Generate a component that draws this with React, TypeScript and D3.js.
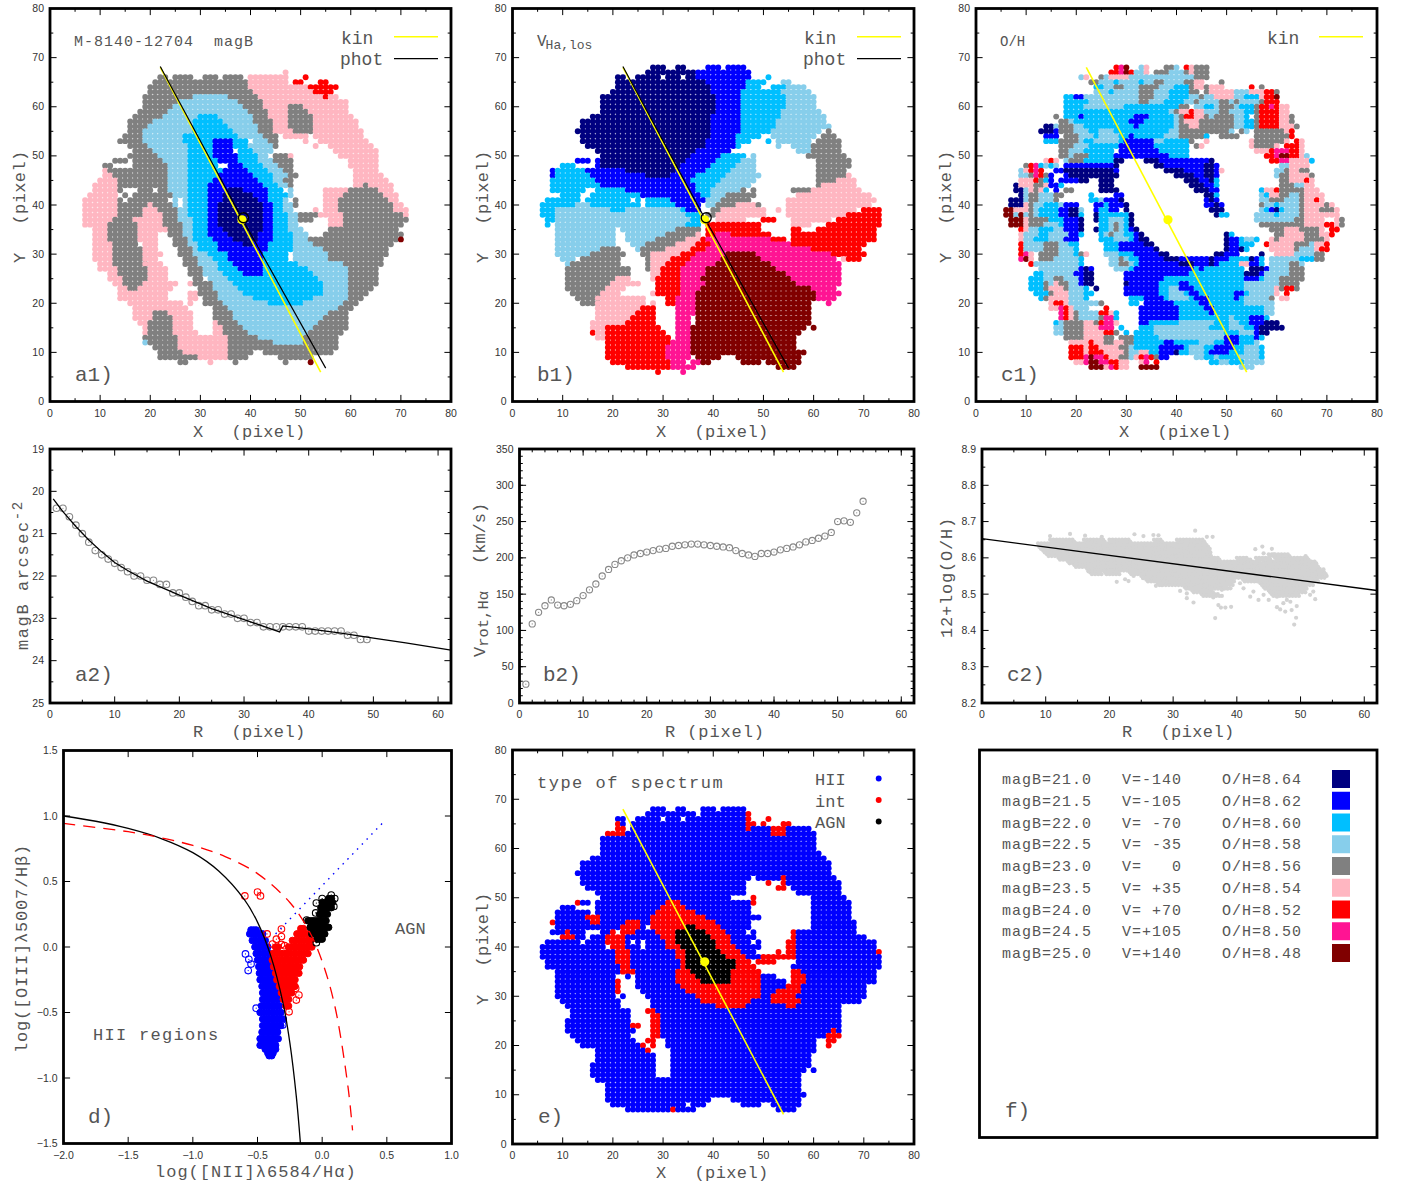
// Galaxy map figure: spaxel maps (a1, b1, c1, e), radial profiles (a2, b2, c2), BPT diagram (d), colour key (f)
import React from 'react';
import * as d3 from 'd3';

type Row = [number, string];

// colour codes used in the map rows
const colourCodes: Record<string, string> = {
  n: '#000080', b: '#0000ff', d: '#00bfff', l: '#87ceeb', g: '#808080',
  p: '#ffb6c1', r: '#ff0000', h: '#ff1493', m: '#800000', k: '#000000',
};

// map rows: Y, then runs of X with a colour code
const magBRows: Row[] = [
  [67, '47p'],
  [66, '22-23g 25-28g 31-33g 35-38g 40-47p 51r'],
  [65, '21-39g 40-47p 49-50r 54-55r'],
  [64, '20-39g 40-51p 52-57r'],
  [63, '20-40g 41-52p 53-56r'],
  [62, '19-28g 29-35l 36-41g 42-54p 55r 56-57p'],
  [61, '19-25g 26-37l 38-42g 43-59p'],
  [60, '19-24g 25-38l 39-42g 43-47p 48-50g 51-59p'],
  [59, '18-23g 24-39l 40-43g 44-47p 48-51g 52-59p'],
  [58, '17-22g 23-29l 30-33d 34-40l 41-43g 44-47p 48-52g 53-60p'],
  [57, '16-20g 21-28l 29-34d 35-40l 41-44g 45-47p 48-52g 53-61p'],
  [56, '16-19g 20-28l 29-35d 36-41l 42-44g 45-47p 48-52g 53-61p'],
  [55, '16-18g 19-28l 29-36d 37-41l 42-44g 45-48p 49-52g 53-62p'],
  [54, '15-18g 19-26l 27-37d 38-42l 43-45g 47-49p 50-51p 53-62p'],
  [53, '14-18g 19-26l 27-32d 33-36b 37-39d 41-43l 44-45g 51p 54-63p'],
  [52, '16-19g 20-27l 28-32d 33-36b 37-39d 40-44l 45g 53p 56-64p'],
  [51, '17-20g 21-27l 28-32d 33-36b 38-40d 41-44l 57-65p'],
  [50, '16-21g 22-27l 28-32d 33-37b 38-41d 42-43l 45-47g 48p 58-65p'],
  [49, '13-15g 17-22g 23-27l 28-33d 34-37b 38-41d 42-44l 45-48g 60-65p'],
  [48, '11-12g 17-23g 24-27l 28-33d 36-38b 39-42d 43-45l 46-48g 60-65p'],
  [47, '11p 12-23g 24-27l 28-34d 35-39b 40-43d 44-46l 47-48g 61-65p'],
  [46, '11-12p 13-23g 24-27l 28-33d 34-40b 41-44d 45-47l 48-49g 61-66p'],
  [45, '10-13p 14-23g 24-27l 28-33d 33-41b 42-44d 45-46l 47-48g 61-67p'],
  [44, '9-13p 14-23g 24-27l 28-31d 32-42b 43-45d 46-47l 48g 61-62p 63g 64-68p'],
  [43, '9-13p 14g 18-20g 22-23g 24-27l 28-31d 32-35b 36-38n 39-43b 44-46d 48l 55-59p 60-65g 66-68p'],
  [42, '8-13p 15g 17-24g 25-27l 28-31d 32-34b 35-40n 41-43b 44-47d 48l 55-58p 59-66g 67-69p'],
  [41, '7-13p 14g 16-23g 25l 27l 28-31d 32-34b 35-41n 42-43b 44-46d 47l 49g 55-57p 58-67g 68-69p'],
  [40, '7-13p 14-19g 20p 21-24g 25l 27l 28-31d 32-33b 34-42n 43-44b 45-46d 47-48l 49g 55-57p 58-68g 69-70p'],
  [39, '7-13p 14-18g 19-21p 22-25g 26-27l 28-31d 32-33b 34-42n 43-44b 45-46d 47-48l 53p 55-57p 58-68g 69-71p'],
  [38, '7-13p 14-18g 19-22p 23-25g 26-27l 28-31d 32-33b 34-42n 43-44b 45-47d 48-49l 50-53g 54-58p 59-70g 71p'],
  [37, '7-12p 13-16g 17-22p 23-25g 26-28l 29-31d 32-33b 34-42n 43-44b 45-47d 48-49l 50-52g 56-58p 59-71g'],
  [36, '7-11p 12-17g 18-22p 23-26g 27-28l 29-31d 32-33b 34-42n 43-44b 45-47d 48-49l 56-58p 59-70g'],
  [35, '9-11p 12-17g 18-23p 24-26g 27-28l 29-31d 32-34b 35-42n 43-44b 45-47d 48-50l 56-69g'],
  [34, '9-11p 12-17g 18-21p 24-26g 27-28l 29-31d 32-35b 36-41n 42-44b 45-48d 49-51l 55-70g'],
  [33, '9-11p 12-17g 18-21p 25-27g 28l 29-32d 33-36b 37-41n 42-44b 45-48d 49-51l 52-69g 70m'],
  [32, '9-12p 13-17g 19-21p 25-27g 28-29l 30-33d 34-38b 39-40n 41-43b 44-48d 49-52l 53-68g'],
  [31, '9-12p 13-18g 19-21p 26-28g 29l 30-33d 34-43b 44-48d 49-54l 55-67g'],
  [30, '9-12p 13-18g 19-22p 26-28g 29-31l 32-35d 36-42b 43-47d 49-55l 56-67g'],
  [29, '9-12p 13-18g 19-21p 27-29g 30-32l 33-35d 36-42b 43-47d 49-55l 56-66g'],
  [28, '10-12p 13-19g 19-22p 27-29g 30-33l 34-36d 37-42b 43-49d 50-58l 59-66g'],
  [27, '10-13p 14-19g 20-23p 28-30g 31-33l 34-37d 38-42b 43-51d 52-59l 60-65g'],
  [26, '12-14p 14-19g 20-23p 28-30g 31-34l 35-38d 39-42b 43-52d 53-59l 60-65g'],
  [25, '12-15p 15-19g 20-23p 29-30g 32-35l 36-53d 54-59l 60-65g'],
  [24, '13-14p 15-18g 19-25p 28p 29-32g 33-36l 37-54d 55-59l 60-65g'],
  [23, '14-15p 16-17g 18-24p 30-32g 33-37l 38-54d 55-59l 60-64g'],
  [22, '14-23p 28-29p 30-33g 34-38l 39-54d 55-59l 60-63g'],
  [21, '14-23p 28-29p 31-33g 34-40l 41-52d 53-59l 60-62g'],
  [20, '16-26p 28p 31-34g 35-43l 44-50d 51-58l 59-61g'],
  [19, '17-27p 33-35g 36-57l 58-60g'],
  [18, '17-20p 21-23g 24-28p 33-36g 37-55l 56-59g'],
  [17, '17-20p 21-24g 25-28p 33-36g 37-54l 55-59g'],
  [16, '18-19p 20-24g 25-28p 33p 34-37g 38-53l 54-59g'],
  [15, '19p 20-24g 25-28p 33-34p 35-38g 39-52l 53-59g'],
  [14, '19p 20-24g 25-29p 33-34p 35-39g 40-51l 52-58g'],
  [13, '19-25g 26-35p 36-41g 42-50l 51-57g'],
  [12, '19l 20-25g 26-35p 36-44g 45-50l 51-57g'],
  [11, '21-25g 26-35p 36-57g'],
  [10, '22-26g 27-35p 36-40g 43-54g 55-56g'],
  [9, '22-29g 30-35p 36-39g 46-52g'],
  [8, '26-27g 32p 37g 47g 52m'],
];

const velocityRows: Row[] = [
  [68, '28-30n 33-34n 39-41b 43-46b'],
  [67, '27-36n 37-47b'],
  [66, '21-22n 25-29n 31-33n 35-36n 37-47b 51d'],
  [65, '21-38n 39-46b 47-50d 54-55l'],
  [64, '21-39n 40-46b 47-49d 52-54d 55-58l'],
  [63, '20-39n 40-45b 46-53d 54-59l'],
  [62, '18-40n 41-45b 46-54d 55-60l'],
  [61, '18-40n 41-45b 46-54d 55-60l'],
  [60, '18-40n 41-45b 46-54d 55-60l'],
  [59, '18-40n 41-45b 46-53d 54-61l'],
  [58, '16-39n 40-45b 46-53d 54-62l'],
  [57, '14-39n 40-45b 46-52d 53-62l'],
  [56, '14-39n 40-45b 46-52d 53-63l'],
  [55, '13-39n 40-45b 46-51d 52-61l 63g'],
  [54, '14-39n 40-44b 45-49d 52-60l 62-64g'],
  [53, '14-38n 39-44b 45-47d 51d 53-59l 61-65g'],
  [52, '15-38n 39-44b 45d 53l 56-59l 60-65g'],
  [51, '17-36n 37-43b 57-59l 60-65g'],
  [50, '18-35n 36-41b 42-46d 48l 59g 60-66g'],
  [49, '13-15b 17b 18-34n 35-40b 41-45d 46-48l 61-67g'],
  [48, '10-12d 17b 18-33n 34-39b 40-44d 45-48l 61-67g'],
  [47, '8b 9-14d 15-22b 23-32n 33-38b 39-43d 44-48l 61-66g'],
  [46, '8b 9-15d 16-26b 27-31n 32-36b 37-42d 43-49l 61-66g 67p'],
  [45, '8-16d 17-35b 36-41d 42-48l 61-64g 65-68p'],
  [44, '8-17d 18-36b 37-40d 41-47l 61g 62-68p'],
  [43, '8-14d 17-22d 23-36b 37-39d 40-45l 46g 48g 56-59g 60-69p'],
  [42, '10-13d 16-25d 26-37b 38-39d 40-42l 43-47g 48g 57-71p'],
  [41, '7-13d 15-23d 25d 27-31d 32-38b 39-41l 42-47g 55-72p'],
  [40, '6-12d 13-15l 16-24d 25d 27-32d 33-37b 39-40l 41-44g 45-48p 49g 55-71p'],
  [39, '6-8d 9-19l 20-22d 23-33l 34d 35-37b 40-41g 42-50p 53p 55-68p 70-73r'],
  [38, '6-8d 9-34l 35-37d 39-40g 41-50p 55-66p 67-73r'],
  [37, '7-8d 9-35l 36-37d 41-46p 50-52r 56-63p 65-73r'],
  [36, '7d 9-34l 35-37d 39r 40-49r 56-59p 63-73r'],
  [35, '9-20l 22-32l 33-37g 39-49r 56-57r 61-72r'],
  [34, '9-20l 23-30l 31-36g 37p 39-40r 41-43h 44-51r 56-72r'],
  [33, '9-20l 23-28l 29-34g 35-37p 38r 39-51h 52-54r 56-72r'],
  [32, '9-20l 24-26l 27-32g 33-36p 37-39r 40-55h 56-70r'],
  [31, '9-17l 18-21g 25l 26-30g 31-35p 36-38r 39-59h 60-69r'],
  [30, '9-15l 16-22g 26-27g 28-33p 34-36r 37-42h 43-48m 49-63h 64-70r'],
  [29, '10-12l 14-21g 27g 28-31p 32-35r 36-41h 42-49m 50-64h 66p 67-69r'],
  [28, '11l 12-21g 27g 28-30p 31-34r 35-40h 41-51m 52-65h'],
  [27, '11-23g 27g 28-29p 30-33r 34-38h 39-52m 53-65h'],
  [26, '11-23g 28-29p 30-33r 34-38h 39-54m 55-65h'],
  [25, '11-20g 21-23p 28p 29-33r 34-37h 38-55m 56-65h'],
  [24, '11-19g 20-25p 29-33r 34-38h 39-56m 57-65h'],
  [23, '11-18g 19-22p 29-33r 34-37h 38-59m 60-64h'],
  [22, '12-18g 18-21p 28p 29-33r 34-36h 37-60m 61-65h'],
  [21, '13-17g 17-26p 31-32r 33-36h 37-60m 61-64h'],
  [20, '14-17g 17-26p 28p 31-32r 33-36h 37-59m 63h'],
  [19, '17-25p 26-28r 33-36h 37-59m'],
  [18, '17-24p 25-28r 33-36h 37-59m'],
  [17, '17-23p 24-28r 33-35h 37-59m'],
  [16, '16-22p 23-28r 33-35h 37-59m'],
  [15, '16-18p 19-29r 33-35h 36-58m 60m'],
  [14, '16r 17-18p 19-30r 33-35h 36-57m'],
  [13, '17-18p 19-31r 33-35h 36-56m'],
  [12, '19-31r 32-35h 36-56m'],
  [11, '19-30r 31-35h 36-56m'],
  [10, '19-30r 31-35h 36-58m'],
  [9, '19-30r 31-35h 37-41m 45-57m'],
  [8, '20-31r 32-34h 36-37h 38-39m 46-49m 51-57m'],
  [7, '23-31r 32-36h 53-56m'],
  [6, '29r 34h'],
];

const abundanceRows: Row[] = [
  [68, '28r 29h 30m 33l 34p 38-39g 40l 42r 43p 44-46g'],
  [67, '27-28r 29h 30m 31r 32-33l 34p 36-38g 39-41l 42g 43p 44-46g'],
  [66, '21l 22p 25g 26l 27-30p 31-36l 37-43l 44-46g'],
  [65, '23-24g 25-27l 28d 29-32l 33d 34-35l 36-37g 38-41l 42-43g 44-45p 49g'],
  [64, '24-25d 26-27l 28-29g 30-32l 33-36g 37-39l 40-42d 43g 44-45p 46g 47-49p 55r 57g'],
  [63, '24-26l 27d 28-32l 33-35g 36-38l 39-42d 43-44g 46g 47-51p 52-54l 55-57p 58-59r 60g'],
  [62, '18-19d 20-21b 22-32l 33-35g 36-38l 39-42d 43-44l 45g 46-47l 48-51p 52-53l 54-56d 57p 58-59r 60m'],
  [61, '18-22d 23-32l 33-34g 35-37l 38-41d 42-43l 44g 45-48l 49-50g 51l 52g 53-56l 57g 58-60r'],
  [60, '18-21d 22-29l 30-40d 41g 42g 44-45l 46-47d 48l 49-51g 52l 53-55d 56g 57-58r 59h 60r 61-62p'],
  [59, '18-38d 39l 40g 41-42p 43r 44-45p 46-48l 49-50g 51-53l 54-55d 56g 57-60r 61-62p'],
  [58, '16g 18-20d 21b 22-30d 31d 32-34b 35-39d 40l 41g 42-43r 44-45p 46g 47l 48-51g 52-53l 54d 56g 57-60r 61-62p 63g'],
  [57, '17-18g 19l 20-30d 31-33b 34-39d 40l 41g 42-44p 45-51g 52-53l 54-55d 56g 57-60r 61-62p 63g'],
  [56, '14-15n 16l 17-19g 20-21l 22-31d 32b 33-39d 40l 41-42g 43-44p 45-51g 52-53l 54-55d 56g 57-60r 61-63p 64g'],
  [55, '13-15n 16b 17-19g 20-22l 23-24d 25-27l 28-38d 39-40l 41-50g 51l 53g 54l 56-61g 62p 63r'],
  [54, '14-16b 18-20g 21-23l 24d 25-28l 29-30d 31b 32-37d 38-40l 41-45g 46d 49-52g 56-61g 62g 63r'],
  [53, '14-16d 17g 18-20g 21l 22-23d 24-28l 29d 30-35b 36-37l 38-42d 43g 46p 55p 56-61g 62p 64r 65p'],
  [52, '17g 18-19g 20-22l 23-28d 29-35b 36-42d 44g 45p 55p 56-59g 60p 62-64r 65p'],
  [51, '17-19g 19-21l 22-27d 29-36b 37-42d 56-58p 59r 60-62h 63-64r 65p'],
  [50, '17-18g 19l 20-22g 23-27d 28-38b 39-42d 58-59r 60h 61-62m 63-64r 65p 66l'],
  [49, '14p 15r 16p 18l 19-21g 22-27d 28-29n 34-36n 37-39b 40-46b 47n 59-60r 61-62h 63-66p 67d'],
  [48, '10g 11r 12h 13d 14l 15d 16l 18-27b 28n 36-37n 38-45b 46-47n 48b 61-62l 63-66p'],
  [47, '9l 10p 11r 12h 13r 16-17b 18-27n 28b 38-41n 42-45b 46-47n 48b 49p 60-61l 62g 63-64p 65-66g'],
  [46, '9-10l 11g 12h 13r 14g 15b 18b 19-26n 27-28n 40-43n 44-45b 46-47n 48b 60l 61-62g 63-66p 67g'],
  [45, '9-11p 12r 13g 14d 15b 17-20b 21-22n 25-27n 42-44n 45-46b 47n 48d 61-62g 63-65p 66r 67p'],
  [44, '8n 9-11p 12-13g 14p 15-16b 17d 25-27n 43-45n 46-47b 48d 61-63g 64-65l 66-67p'],
  [43, '8-9n 10l 11p 12g 13p 14d 16b 18-19g 25-28n 44-46n 47-48b 57d 58-59p 60r 61-65g 66-68p'],
  [42, '9n 10l 11-12g 13-15l 16-17g 23d 28-29b 46-47n 48d 57l 58d 59-60p 61-62g 63-64l 65g 66-69p'],
  [41, '7-9n 10l 11-12g 13-15l 16g 23-24d 25l 26-28b 29n 46b 47n 48b 57-58l 59-61g 62-64l 65g 66-67p 68r 69p'],
  [40, '7-9n 10p 11g 12-13l 14-16d 17l 18-20b 24-25b 26d 27-29b 30n 46-47b 48n 49b 57g 58-59l 60d 61-64l 65g 66-69p 70g 71p'],
  [39, '6-7m 8-10p 11g 12l 13-16d 17-18b 19-20n 21l 24b 25-26d 27-28b 30n 47-49n 57l 58d 59b 60n 61d 62-64l 65g 66-68p 69-71g 72p'],
  [38, '6-7m 8l 9m 10l 11g 12l 13-16d 17-18b 19-20n 21d 24n 25-30d 31n 48n 49-50d 56-59l 60d 61-64l 65g 66-72p'],
  [37, '7-9m 10p 11-14g 15-17d 18-20b 21n 24n 25-26d 27-29l 30d 31n 56-63l 64-65g 66-69p 72p 73g'],
  [36, '7-9m 10p 11-13g 14-16l 17d 18-20b 21n 25-26d 27l 28g 29l 30d 31n 57-65g 66-69p 70-71r 72p 73g'],
  [35, '9r 10p 11-12l 13-15d 16-17l 18-20b 21n 24n 25-26d 27l 28g 29l 30d 31b 32n 59-61g 62-64p 65-68g 69p 71-72r'],
  [34, '9p 10-12l 13-14d 15-18l 19-20b 21d 25d 26l 27g 28-29l 30-31d 32b 33n 50n 51d 60-61g 62-65p 66-68g 69-70p 71r'],
  [33, '9p 10-11l 12-14d 15-17l 18-20b 25-27d 28-30l 31d 32b 33-34n 50n 51-52b 53d 54-55l 56d 59p 60g 61-65p 66-69g 70p'],
  [32, '9r 10-13l 14-16g 17-18l 19-20d 26-28d 29-33b 34-35n 50n 51-52b 53-55d 58r 59-63p 64-66g 67l 68-69p 70r'],
  [31, '9r 10-13l 14-16g 17-19l 20d 26-28d 29-35b 36n 50n 51-52b 53n 54d 59-63p 64g 65-67l 68p 69-70r'],
  [30, '9r 10h 11p 13-16g 17-19l 20d 21g 22p 26-28l 29-31d 32-36b 37-38n 48-49n 50-52b 57n 60-63p 64-67l 68-69g'],
  [29, '9h 10m 11p 13-15g 16-20l 21d 27-28l 29g 30l 31-32d 33-37b 38-40n 41-46b 47n 48-50b 51-54d 55n 56b 57d 59-64l 65-67d 68-69g'],
  [28, '11r 12-20l 21d 27-28l 29-30g 31l 32d 33-40b 41-43n 44-46b 47n 48b 49-52d 53-54p 55-56b 57d 59-62l 63-64g 65l'],
  [27, '13-20l 21b 22n 23b 28-30l 31d 32-43b 44d 45b 46-53d 55-57n 58b 59-62l 63-65g'],
  [26, '12-13d 14-19l 20-21b 22-23n 30-42b 43-53d 54-56n 57b 58-62l 63-65g'],
  [25, '11-13d 14-15l 16-17g 18-20l 21b 22-23n 30-37b 38-44d 45-47d 48-53d 54-56b 57d 58-60l 61-65g'],
  [24, '11-13d 14g 15l 16p 17-18g 19-20l 21b 22-23n 30n 31-36b 37-40d 41-42b 43-53d 54-60l 61-64g'],
  [23, '11-13d 14g 15-17p 18g 19-21l 22d 24n 30-36b 37-38d 39-40l 41-43b 44-53d 54-59l 60p 61g 62-63r 64g'],
  [22, '12-14d 15g 16-18p 19-21l 22-23d 30-36b 37-38d 39-41l 42d 43-44b 45-51d 52-53b 54d 55-59l 60p 62r'],
  [21, '13d 14g 15-18p 19-21l 22d 31-33d 34-37b 38d 39-42l 43d 44-46b 47-51d 52b 53d 54-58l 59g 61-62p'],
  [20, '15p 16-17r 18p 19-24l 25g 31-32d 34-39b 40-43d 44d 45-46b 47-53d 54-59l'],
  [19, '15-16p 17h 18r 19p 20-22l 26r 33-38b 39-40b 41-45d 46-47b 48-57d 58-59l'],
  [18, '17h 18r 19p 20g 21-24l 25-26r 27p 28d 33-40b 41-46d 47b 48-57d 58-59l'],
  [17, '17h 18r 19p 20g 21-24l 25g 26-27h 28d 33-40b 41-47d 48-50d 51l 52-54d 55-57b 58d'],
  [16, '16d 17l 18-21g 22-23p 24g 25r 26-27h 28p 33-34b 35-40d 41-47l 48-50d 51-52l 53-54d 55-57b 58-60n'],
  [15, '16-17l 18-21g 22-24p 25-27h 29d 33-35d 36-46l 47-50d 51-53l 54-55d 56b 57-61n'],
  [14, '16-17l 18-21g 22-25p 26-27r 28g 30d 32-35d 36-49l 50-52d 53-55l 56b 57-58n'],
  [13, '18-21g 22-25p 26-27g 29-31g 32-36d 37-49l 50-52b 53-55d 56b 57d'],
  [12, '19-22p 23r 24-25p 26-27g 28-29p 30-31g 32-37d 38-39b 40-44d 45-47l 48-49d 50-52b 53-55d 56l'],
  [11, '19-21r 22p 23-24r 25-26p 27-28p 29-30g 31l 32-36d 37-41b 42d 43-45l 46-47d 48-51b 52-53d 54-56l 57d'],
  [10, '19-21r 22p 23-25r 26-28p 29p 30g 31-32l 33-34p 35-36d 37-39b 40n 41-42d 43-45l 46d 47-50b 51-53d 54-56l 57d'],
  [9, '19-20r 21r 22h 23m 24-25h 26r 27-28p 29-30g 31l 32p 33r 34h 35r 36g 37-38b 44-45l 46-47d 48l 49-52d 53-56l 57d'],
  [8, '20-21p 22h 23-24m 25-26h 27-28r 29-30p 33p 34h 36r 47-48d 49-50l 51-53d 54-57l'],
  [7, '23-25m 26p 27h 28r 29-30p 33-36m 53-55l'],
];

const spectrumRows: Row[] = [
  [68, '28-30b 33-34b 38-40b 42-46b'],
  [67, '27-36b 38-46b 47r'],
  [66, '21-22b 25-29b 31-33b 35-46b 47r 51r'],
  [65, '21r 22b 24-46b 47-48r 50r 54-55r'],
  [64, '21-22r 24-46b 47r 48-51b 52-54r 55-59b'],
  [63, '19-22r 23-51b 52-54r 55-60b'],
  [62, '18-60b'],
  [61, '18-60b'],
  [60, '18-60b'],
  [59, '18-61b'],
  [58, '16-62b'],
  [57, '14-63b'],
  [56, '14-63b'],
  [55, '13-63b'],
  [54, '14-47b 49-53b 54r 55-64b'],
  [53, '14-46b 51r 54r 55-65b'],
  [52, '15-46b 53-54r 56-65b'],
  [51, '17-46b 57-65b'],
  [50, '18-43b 48r 60-66b'],
  [49, '13r 14-15b 17-30b 31-33r 34-47b 48r 60-67b'],
  [48, '10-12b 17-29b 30-34r 35-47b 60-67b'],
  [47, '9-15b 17-28b 29-36r 37-47b 60-67b'],
  [46, '9-14b 15-17r 18-27b 28-38r 39-48b 49b 60-67b'],
  [45, '8r 9-15b 16-17r 18-22b 23-25r 26-27b 28-40r 41-47b 60-68b'],
  [44, '9-21b 22-25r 26b 28-34r 35-36k 37-41r 42-47b 60-68b'],
  [43, '8-10b 11r 12-14b 18-19b 20r 22-24r 25-28b 29-32r 33-38k 39-42r 43-46b 48b 56r 57-68b'],
  [42, '10-12r 13-14b 16-18b 19-22r 23-29b 30-32r 33-39k 40-43r 44-48b 56r 57-70b'],
  [41, '7-13b 15-18b 19-22r 23b 25b 27-30b 31-32r 33-40k 41-43r 44-47b 49b 55-56r 57-72b'],
  [40, '6-18b 20-22r 23-25b 27-30b 31-33r 34-40k 41-44r 45-49b 55-56r 57-72b'],
  [39, '6-20b 21-23r 24-32b 33-34r 35-41k 42-45r 46-48b 53r 55-56r 57-72b 73r'],
  [38, '6-20b 21-23r 24-32b 33-34r 35-42k 43-46r 47-49b 50-56r 57-73b'],
  [37, '7-20b 21-23r 24-33b 34r 35-44k 45-47r 49-52r 57-73b'],
  [36, '7-21b 22-23r 24-33b 34r 35-44k 45-48r 56-73b'],
  [35, '9-21b 22-24r 25-32b 33-35r 36-43k 44-49r 56-57r 58-72b'],
  [34, '9-20b 23b 25-32b 33-36r 37-43k 44-49r 50-52b 56-58r 59-72b'],
  [33, '9-20b 21r 25-32b 33-37r 38-43k 44-49r 50-54b 56-58r 59-72b'],
  [32, '9-20b 21r 25-33b 34-49r 50-54b 55-57r 58-70b'],
  [31, '9-20b 21r 26-34b 35-49r 50-52b 53-57r 58-70b'],
  [30, '9-20b 22b 27-36b 37-49r 50-51b 52-56r 57-70b'],
  [29, '10-21b 28-37b 38-47r 48-51b 52-56r 57r 58-69b'],
  [28, '11-21b 28-40b 41-46r 47-54b 55-56r 57-65b'],
  [27, '12-23b 27-28r 29-65b'],
  [26, '12-23b 28-29r 30-65b'],
  [25, '11-23b 28-29r 30-65b'],
  [24, '11-23b 24-25r 28-29r 30-65b'],
  [23, '11-23b 24b 28-29r 30-63b 64r 65b'],
  [22, '12-23b 28-29r 30-62b 63-64r 65r'],
  [21, '13-24b 27-28r 31-60b 63-64r'],
  [20, '14-25b 26r 28r 31-60b 63r'],
  [19, '17-26b 27r 32-60b'],
  [18, '17-28b 32-59b'],
  [17, '17-28b 32-59b'],
  [16, '16-28b 32-59b'],
  [15, '16-28b 32-58b 60b'],
  [14, '16-28b 32-57b'],
  [13, '17-57b'],
  [12, '19-57b'],
  [11, '19-57b'],
  [10, '19-58b'],
  [9, '19-39b 44-57b'],
  [8, '20-34b 36-38b 46-49b 52-57b'],
  [7, '23-31b 32r 33-36b 53-56b'],
];

// kinematic and photometric position angle lines, X and Y
const kinLine: [number, number][] = [[22, 68], [54, 6]];
const photLine: [number, number][] = [[22, 68.2], [38.3, 37.3], [55, 6.8]];
const centre: [number, number] = [38.3, 37];
const photCentre: [number, number] = [38.6, 37.4];

// a2 surface brightness profile, R = 1..49
const magBProfile = [20.4, 20.4, 20.6, 20.8, 21.0, 21.2, 21.4, 21.5, 21.6, 21.7, 21.8, 21.9, 22.0, 22.0, 22.1, 22.1, 22.2, 22.2, 22.4, 22.4, 22.5, 22.6, 22.7, 22.7, 22.8, 22.8, 22.9, 22.9, 23.0, 23.0, 23.1, 23.1, 23.2, 23.2, 23.2, 23.2, 23.2, 23.2, 23.2, 23.3, 23.3, 23.3, 23.3, 23.3, 23.3, 23.4, 23.4, 23.5, 23.5];
const magBFit: [number, number][] = [[0.5, 20.18], [2, 20.48], [4, 20.83], [6, 21.15], [8, 21.43], [10, 21.68], [12, 21.87], [15, 22.12], [20, 22.45], [25, 22.77], [30, 23.03], [35.5, 23.32], [36, 23.18], [40, 23.25], [45, 23.35], [50, 23.47], [55, 23.58], [62, 23.75]];

// b2 rotation curve, R = 1..54
const rotationCurve = [26, 109, 125, 134, 142, 135, 134, 136, 141, 148, 156, 164, 175, 184, 191, 196, 200, 204, 206, 208, 210, 212, 213, 216, 217, 218, 219, 219, 218, 217, 216, 215, 214, 210, 206, 204, 202, 206, 206, 208, 211, 213, 215, 218, 222, 224, 227, 230, 235, 250, 251, 249, 262, 278];

// c2 cloud of spaxels: occupied R intervals at each O/H level, then the loose points
const abundanceBands: [number, [number, number][]][] = [
  [8.65, [[10.7, 14.3], [16, 19], [20, 23], [27, 28], [30.6, 34.8]]],
  [8.64, [[8.8, 19.6], [20, 29.5], [30, 35]]],
  [8.63, [[9, 35.3]]],
  [8.62, [[9.6, 35.6]]],
  [8.61, [[10.2, 35.6], [45, 48]]],
  [8.60, [[12, 37.2], [40, 41.6], [43, 45], [46, 51.2]]],
  [8.59, [[13.5, 43.7], [44.2, 52]]],
  [8.58, [[14.5, 52.5]]],
  [8.57, [[16.5, 53.2]]],
  [8.56, [[17, 18.5], [19.3, 21.5], [23.2, 53.8]]],
  [8.55, [[25, 53.6]]],
  [8.54, [[25.8, 39.5], [41, 52.4]]],
  [8.53, [[27.6, 39], [43.7, 51.8]]],
  [8.52, [[31.8, 38.2], [44.2, 50.8]]],
  [8.51, [[33, 36], [45, 50.5]]],
  [8.50, [[34.5, 37], [45.5, 49.5]]],
];
const abundanceLoose: [number, number][] = [[10.68, 8.66], [13.82, 8.666], [16.18, 8.661], [18.8, 8.658], [23.93, 8.665], [25.34, 8.66], [26.9, 8.663], [27.7, 8.662], [33.46, 8.675], [35.3, 8.658], [36.2, 8.658], [42.9, 8.624], [44, 8.631], [45.5, 8.625], [45.8, 8.61], [47.85, 8.606], [50.8, 8.605], [21.15, 8.534], [22.46, 8.541], [23, 8.536], [23.8, 8.55], [27.3, 8.523], [28.2, 8.525], [31.1, 8.509], [32.15, 8.502], [32.15, 8.489], [33.2, 8.477], [35.55, 8.507], [37.65, 8.495], [36.3, 8.491], [37.1, 8.47], [37.5, 8.463], [38.2, 8.463], [39.1, 8.465], [36.6, 8.434], [42.1, 8.493], [43.4, 8.484], [45, 8.484], [46.3, 8.464], [46.8, 8.458], [47.6, 8.452], [48.6, 8.456], [49.4, 8.467], [49.3, 8.435], [49, 8.416], [47.3, 8.475], [48.4, 8.479], [52.3, 8.486], [52, 8.507], [51.5, 8.498], [53.6, 8.568], [54.1, 8.55],
  [41.05, 8.599], [42.1, 8.595], [44.2, 8.6125], [46.5, 8.604], [47.3, 8.595], [48.9, 8.595], [50.2, 8.59], [51.5, 8.59], [52, 8.567], [53.1, 8.563], [12.8, 8.599], [14.1, 8.59], [15.4, 8.586], [16.7, 8.563], [18.3, 8.563], [19.8, 8.563], [21.15, 8.563], [25.3, 8.544], [26.4, 8.549], [28.5, 8.535], [30.05, 8.535], [33.7, 8.521], [34.8, 8.512], [36.1, 8.526], [37.65, 8.512], [39, 8.516], [40.5, 8.53], [41.05, 8.516], [42.6, 8.507], [44.2, 8.498], [45.2, 8.507], [46.3, 8.493], [47.85, 8.484], [50.2, 8.507]];
const abundanceFit: [number, number][] = [[0, 8.653], [62, 8.51]];

// d BPT diagram: occupied x intervals at each y level, then the loose points
const hiiBands: [number, [number, number][]][] = [
  [0.13, [[-0.55, -0.52]]], [0.1, [[-0.56, -0.46]]], [0.05, [[-0.54, -0.45]]], [0, [[-0.52, -0.43]]], [-0.05, [[-0.51, -0.42]]],
  [-0.1, [[-0.5, -0.41]]], [-0.15, [[-0.49, -0.4]]], [-0.2, [[-0.485, -0.38]]], [-0.25, [[-0.48, -0.37]]], [-0.3, [[-0.465, -0.36]]],
  [-0.35, [[-0.46, -0.345]]], [-0.4, [[-0.46, -0.335]]], [-0.45, [[-0.47, -0.325]]], [-0.5, [[-0.48, -0.32]]], [-0.55, [[-0.46, -0.31]]],
  [-0.6, [[-0.46, -0.325]]], [-0.65, [[-0.465, -0.34]]], [-0.7, [[-0.48, -0.35]]], [-0.75, [[-0.48, -0.365]]], [-0.78, [[-0.44, -0.37]]], [-0.81, [[-0.42, -0.38]]], [-0.83, [[-0.41, -0.39]]],
];
const intBands: [number, [number, number][]][] = [
  [0.14, [[-0.165, -0.15]]], [0.1, [[-0.195, -0.115]]], [0.05, [[-0.23, -0.08]]], [0, [[-0.36, -0.35], [-0.26, -0.08]]], [-0.05, [[-0.38, -0.28], [-0.27, -0.12]]],
  [-0.1, [[-0.385, -0.14]]], [-0.15, [[-0.375, -0.165]]], [-0.2, [[-0.36, -0.185]]], [-0.25, [[-0.35, -0.2]]], [-0.3, [[-0.33, -0.22]]],
  [-0.35, [[-0.315, -0.235]]], [-0.4, [[-0.3, -0.25]]], [-0.45, [[-0.28, -0.27]]],
];
const agnBands: [number, [number, number][]][] = [
  [0.37, [[0.05, 0.08]]], [0.34, [[0.0, 0.08]]], [0.3, [[-0.01, 0.07]]], [0.25, [[-0.02, 0.05]]], [0.2, [[-0.11, 0.04]]],
  [0.15, [[-0.09, 0.04]]], [0.1, [[-0.08, 0.02]]], [0.06, [[-0.04, 0.01]]],
];
const hiiLoose: [number, number][] = [[-0.593, -0.053], [-0.567, -0.094], [-0.572, -0.18], [-0.55, -0.13], [-0.51, -0.467], [-0.305, -0.596]];
const intLoose: [number, number][] = [[-0.598, 0.39], [-0.5, 0.42], [-0.477, 0.39], [-0.426, 0.1], [-0.315, 0.137], [-0.354, 0.06], [-0.315, 0.08], [-0.384, 0.023], [-0.315, 0.02], [-0.29, 0.01], [-0.205, -0.315], [-0.18, -0.367], [-0.2, -0.405], [-0.22, -0.3], [-0.256, -0.495]];
const agnLoose: [number, number][] = [[-0.045, 0.335], [-0.05, 0.26], [-0.045, 0.033], [0.07, 0.397], [0.0, 0.37], [0.097, 0.37], [-0.12, 0.206], [-0.09, 0.15], [0.03, 0.33], [0.02, 0.28], [0.09, 0.31]];
const kauffmannCurve: [number, number][] = [[-2, 1.0], [-1.75, 0.96], [-1.5, 0.905], [-1.25, 0.83], [-1, 0.72], [-0.8, 0.58], [-0.6, 0.36], [-0.5, 0.19], [-0.4, -0.06], [-0.3, -0.44], [-0.25, -0.73], [-0.2, -1.14], [-0.168, -1.5]];
const kewleyCurve: [number, number][] = [[-2, 0.943], [-1.5, 0.88], [-1.25, 0.835], [-1, 0.775], [-0.75, 0.69], [-0.5, 0.56], [-0.25, 0.34], [-0.1, 0.12], [0, -0.11], [0.1, -0.46], [0.2, -1.07], [0.235, -1.4]];
const agnDivider: [number, number][] = [[-0.36, 0.1], [0.49, 0.97]];

// f colour key
const keyColours = ['n', 'b', 'd', 'l', 'g', 'p', 'r', 'h', 'm'];
const keyMagB = ['21.0', '21.5', '22.0', '22.5', '23.0', '23.5', '24.0', '24.5', '25.0'];
const keyVelocity = ['-140', '-105', ' -70', ' -35', '   0', ' +35', ' +70', '+105', '+140'];
const keyAbundance = ['8.64', '8.62', '8.60', '8.58', '8.56', '8.54', '8.52', '8.50', '8.48'];

const MONO = '"Liberation Mono", monospace';
const SANS = '"Liberation Sans", sans-serif';
const TEXT = '#555';

// expand "22-25g 30r" into single spaxels
const parseRows = (rows: Row[]) =>
  rows.flatMap(([y, runs]) =>
    [...runs.matchAll(/(\d+)(?:-(\d+))?([a-z])/g)].flatMap(m => {
      const from = +m[1];
      const to = m[2] ? +m[2] : from;
      return d3.range(from, to + 1).map(x => ({ x, y, code: m[3] }));
    })
  );

// expand occupied intervals into points
const bandPoints = (bands: [number, [number, number][]][], step: number): [number, number][] =>
  bands.flatMap(([y, spans]) =>
    spans.flatMap(([a, b]) => d3.range(a, b + step / 2, step).map(x => [x, y] as [number, number]))
  );

type Box = { l: number; r: number; t: number; b: number };

const Label = ({ x, y, size = 17, spacing = 0, rotate, children }: any) => (
  <text
    transform={rotate ? `translate(${x},${y}) rotate(-90)` : `translate(${x},${y})`}
    fontFamily={MONO} fontSize={size} letterSpacing={spacing} fill={TEXT} style={{ whiteSpace: 'pre' }}
  >
    {children}
  </text>
);

// "X   (pixel)" axis title, as wide as in the reference
const PixelLabel = ({ x, y, letter, rotate }: any) => (
  <Label x={x} y={y} rotate={rotate} spacing={0.4}>{letter}   <tspan dx={-4}>(pixel)</tspan></Label>
);

// gnuplot style frame: inward ticks on all four sides, heavy border
const Frame = ({ box, x, y, xMajor, xMinor, yMajor, yMinor, xFmt = d3.format('d'), yFmt = d3.format('d') }: any) => (
  <g>
    {[...xMinor.map((v: number) => [v, 3.3]), ...xMajor.map((v: number) => [v, 6.6])].map(([v, len]: number[], i: number) => (
      <g key={`x${i}`} stroke="#000" strokeWidth={1}>
        <line x1={x(v)} x2={x(v)} y1={box.b} y2={box.b - len} />
        <line x1={x(v)} x2={x(v)} y1={box.t} y2={box.t + len} />
      </g>
    ))}
    {[...yMinor.map((v: number) => [v, 3.3]), ...yMajor.map((v: number) => [v, 6.6])].map(([v, len]: number[], i: number) => (
      <g key={`y${i}`} stroke="#000" strokeWidth={1}>
        <line y1={y(v)} y2={y(v)} x1={box.l} x2={box.l + len} />
        <line y1={y(v)} y2={y(v)} x1={box.r} x2={box.r - len} />
      </g>
    ))}
    {xMajor.map((v: number) => (
      <text key={v} x={x(v)} y={box.b + 15} textAnchor="middle" fontFamily={SANS} fontSize={10.5} fill="#333">{xFmt(v)}</text>
    ))}
    {yMajor.map((v: number) => (
      <text key={v} x={box.l - 6} y={y(v) + 3.5} textAnchor="end" fontFamily={SANS} fontSize={10.5} fill="#333">{yFmt(v)}</text>
    ))}
    <rect x={box.l} y={box.t} width={box.r - box.l} height={box.b - box.t} fill="none" stroke="#000" strokeWidth={2.8} />
  </g>
);

const Ring = ({ cx, cy, colour, r = 3.3 }: any) => (
  <g>
    <circle cx={cx} cy={cy} r={r} fill="none" stroke={colour} strokeWidth={1.1} />
    <circle cx={cx} cy={cy} r={0.6} fill={colour} />
  </g>
);

const mapTicks = d3.range(0, 81, 10);
const mapMinor = d3.range(5, 80, 10);

const SpaxelMap = ({ box, rows, withPhot, ringCentre }: any) => {
  const x = d3.scaleLinear().domain([0, 80]).range([box.l, box.r]);
  const y = d3.scaleLinear().domain([0, 80]).range([box.b, box.t]);
  const line = d3.line<[number, number]>().x(d => x(d[0])).y(d => y(d[1]));
  return (
    <g>
      {parseRows(rows).map((p, i) => (
        <circle key={i} cx={x(p.x)} cy={y(p.y)} r={2.95} fill={colourCodes[p.code]} />
      ))}
      <path d={line(kinLine)!} stroke="#ffff00" strokeWidth={1.6} fill="none" />
      {withPhot && <path d={line(photLine)!} stroke="#000" strokeWidth={1.2} fill="none" />}
      <circle cx={x(centre[0])} cy={y(centre[1])} r={4.6} fill="#ffff00" />
      {ringCentre && <circle cx={x(photCentre[0])} cy={y(photCentre[1])} r={5} fill="none" stroke="#000" strokeWidth={1.3} />}
      <Frame box={box} x={x} y={y} xMajor={mapTicks} xMinor={mapMinor} yMajor={mapTicks} yMinor={mapMinor} />
    </g>
  );
};

const LegendLines = ({ kinX, lineX, withPhot = true }: any) => (
  <g>
    <Label x={kinX} y={44} size={18}>kin</Label>
    <line x1={lineX} x2={lineX + 44} y1={36.7} y2={36.7} stroke="#ffff00" strokeWidth={1.4} />
    {withPhot && <Label x={kinX - 1} y={65} size={18}>phot</Label>}
    {withPhot && <line x1={lineX} x2={lineX + 44} y1={58.7} y2={58.7} stroke="#000" strokeWidth={1.3} />}
  </g>
);

const boxA1: Box = { l: 50, r: 451, t: 8.5, b: 401.5 };
const boxB1: Box = { l: 512.5, r: 914, t: 8.5, b: 401.5 };
const boxC1: Box = { l: 976, r: 1377, t: 8.5, b: 401.5 };
const boxA2: Box = { l: 50, r: 451, t: 449, b: 703 };
const boxB2: Box = { l: 519.5, r: 914, t: 449, b: 703 };
const boxC2: Box = { l: 982, r: 1377, t: 449, b: 703 };
const boxD: Box = { l: 63.5, r: 451.5, t: 750.5, b: 1143.5 };
const boxE: Box = { l: 512.5, r: 914, t: 750, b: 1144 };
const boxF: Box = { l: 979.5, r: 1377, t: 750, b: 1137.5 };

const PanelA2 = () => {
  const box = boxA2;
  const x = d3.scaleLinear().domain([0, 62]).range([box.l, box.r]);
  const y = d3.scaleLinear().domain([25, 19]).range([box.b, box.t]);
  const line = d3.line<[number, number]>().x(d => x(d[0])).y(d => y(d[1]));
  return (
    <g>
      {magBProfile.map((v, i) => <Ring key={i} cx={x(i + 1)} cy={y(v)} colour="#888" />)}
      <path d={line(magBFit)!} fill="none" stroke="#000" strokeWidth={1.3} />
      <Frame box={box} x={x} y={y} xMajor={d3.range(0, 61, 10)} xMinor={d3.range(5, 62, 10)} yMajor={d3.range(19, 26)} yMinor={d3.range(19.5, 25, 1)} />
    </g>
  );
};

const PanelB2 = () => {
  const box = boxB2;
  const x = d3.scaleLinear().domain([0, 62]).range([box.l, box.r]);
  const y = d3.scaleLinear().domain([0, 350]).range([box.b, box.t]);
  return (
    <g>
      {rotationCurve.map((v, i) => <Ring key={i} cx={x(i + 1)} cy={y(v)} colour="#888" r={3.1} />)}
      <Frame box={box} x={x} y={y} xMajor={d3.range(0, 61, 10)} xMinor={d3.range(2, 62, 2)} yMajor={d3.range(0, 351, 50)} yMinor={d3.range(10, 350, 10)} />
    </g>
  );
};

const PanelC2 = () => {
  const box = boxC2;
  const x = d3.scaleLinear().domain([0, 62]).range([box.l, box.r]);
  const y = d3.scaleLinear().domain([8.2, 8.9]).range([box.b, box.t]);
  const line = d3.line<[number, number]>().x(d => x(d[0])).y(d => y(d[1]));
  // each band is drawn twice, half a level apart, so the occupied cells close up
  const pts = [
    ...bandPoints(abundanceBands, 0.5),
    ...bandPoints(abundanceBands, 0.5).map(p => [p[0] + 0.25, p[1] - 0.005] as [number, number]),
    ...abundanceLoose,
  ];
  return (
    <g>
      {pts.map((p, i) => <circle key={i} cx={x(p[0])} cy={y(p[1])} r={2.1} fill="#d3d3d3" />)}
      <path d={line(abundanceFit)!} fill="none" stroke="#000" strokeWidth={1.3} />
      <Frame box={box} x={x} y={y} xMajor={d3.range(0, 61, 10)} xMinor={d3.range(5, 62, 10)}
        yMajor={d3.range(0, 8).map(i => 8.2 + i / 10)} yMinor={d3.range(0, 7).map(i => 8.25 + i / 10)} yFmt={d3.format('.1f')} />
    </g>
  );
};

const PanelD = () => {
  const box = boxD;
  const x = d3.scaleLinear().domain([-2, 1]).range([box.l, box.r]);
  const y = d3.scaleLinear().domain([-1.5, 1.5]).range([box.b, box.t]);
  const line = d3.line<[number, number]>().x(d => x(d[0])).y(d => y(d[1])).curve(d3.curveCatmullRom);
  const solid = (bands: any, colour: string) =>
    bandPoints(bands, 0.02).map((p, i) => (
      <circle key={i} cx={x(p[0])} cy={y(p[1])} r={3.3} fill={colour} stroke={colour} strokeWidth={1} />
    ));
  const rings = (pts: [number, number][], colour: string) =>
    pts.map((p, i) => <Ring key={i} cx={x(p[0])} cy={y(p[1])} colour={colour} />);
  return (
    <g>
      {solid(hiiBands, '#0000ff')}
      {rings(hiiLoose, '#0000ff')}
      {solid(intBands, '#ff0000')}
      {rings(intLoose, '#ff0000')}
      {solid(agnBands, '#000')}
      {rings(agnLoose, '#000')}
      <path d={line(kauffmannCurve)!} fill="none" stroke="#000" strokeWidth={1.3} />
      <path d={line(kewleyCurve)!} fill="none" stroke="#ff0000" strokeWidth={1.3} strokeDasharray="12 8" />
      <path d={d3.line()(agnDivider.map(d => [x(d[0]), y(d[1])]))!} fill="none" stroke="#0000ff" strokeWidth={1.4} strokeDasharray="1.5 5.4" />
      <Frame box={box} x={x} y={y} xMajor={d3.range(-2, 1.01, 0.5)} xMinor={[]} yMajor={d3.range(-1.5, 1.51, 0.5)} yMinor={[]} xFmt={d3.format('.1f')} yFmt={d3.format('.1f')} />
    </g>
  );
};

const PanelF = () => (
  <g>
    <rect x={boxF.l} y={boxF.t} width={boxF.r - boxF.l} height={boxF.b - boxF.t} fill="none" stroke="#000" strokeWidth={2.8} />
    {keyColours.map((code, i) => {
      const rowY = d3.scaleLinear().domain([0, 8]).range([779, 953])(i);
      return (
        <g key={code}>
          <Label x={1002} y={rowY + 5} size={15} spacing={1}>{`magB=${keyMagB[i]}`}</Label>
          <Label x={1122} y={rowY + 5} size={15} spacing={1}>{`V=${keyVelocity[i]}`}</Label>
          <Label x={1222} y={rowY + 5} size={15} spacing={1}>{`O/H=${keyAbundance[i]}`}</Label>
          <rect x={1332} y={rowY - 9} width={18} height={18} fill={colourCodes[code]} />
        </g>
      );
    })}
    <Label x={1005} y={1117} size={21}>f)</Label>
  </g>
);

export default function App() {
  return (
    <svg width={1403} height={1185} viewBox="0 0 1403 1185" style={{ position: 'absolute', left: 0, top: 0, background: '#fff' }}>
      {/* top row: maps */}
      <SpaxelMap box={boxA1} rows={magBRows} withPhot ringCentre />
      <Label x={74} y={46} size={15} spacing={1}>M-8140-12704  magB</Label>
      <LegendLines kinX={341} lineX={394} />
      <Label x={75} y={381} size={21}>a1)</Label>
      <PixelLabel x={193} y={437} letter="X" />
      <PixelLabel x={25} y={263} letter="Y" rotate />

      <SpaxelMap box={boxB1} rows={velocityRows} withPhot ringCentre />
      <Label x={537} y={46} size={16}>V<tspan dx={-1} dy={3} fontSize={13}>Ha,los</tspan></Label>
      <LegendLines kinX={804} lineX={857} />
      <Label x={537} y={381} size={21}>b1)</Label>
      <PixelLabel x={656} y={437} letter="X" />
      <PixelLabel x={488} y={263} letter="Y" rotate />

      <SpaxelMap box={boxC1} rows={abundanceRows} />
      <Label x={1000} y={46} size={14}>O/H</Label>
      <LegendLines kinX={1267} lineX={1319} withPhot={false} />
      <Label x={1001} y={381} size={21}>c1)</Label>
      <PixelLabel x={1119} y={437} letter="X" />
      <PixelLabel x={951} y={263} letter="Y" rotate />

      {/* middle row: radial profiles */}
      <PanelA2 />
      <Label x={75} y={681} size={21}>a2)</Label>
      <PixelLabel x={193} y={737} letter="R" />
      <Label x={28} y={650} rotate spacing={1.6}>magB arcsec<tspan dy={-6} fontSize={14}>-2</tspan></Label>

      <PanelB2 />
      <Label x={543} y={681} size={21}>b2)</Label>
      <Label x={665} y={737} spacing={0.9}>R (pixel)</Label>
      <Label x={485} y={657} rotate>V<tspan dy={3} fontSize={15.5}>rot,Hα</tspan><tspan dx={27} dy={-3}>(km/s)</tspan></Label>

      <PanelC2 />
      <Label x={1007} y={681} size={21}>c2)</Label>
      <PixelLabel x={1122} y={737} letter="R" />
      <Label x={952} y={638} rotate spacing={0.8}>12+log(O/H)</Label>

      {/* bottom row */}
      <PanelD />
      <Label x={93} y={1040} spacing={1.3}>HII regions</Label>
      <Label x={395} y={934}>AGN</Label>
      <Label x={88} y={1123} size={21}>d)</Label>
      <Label x={155} y={1177} spacing={1}>log([NII]λ6584/Hα)</Label>
      <Label x={27} y={1053} rotate spacing={0.8}>log([OIII]λ5007/Hβ)</Label>

      <SpaxelMap box={boxE} rows={spectrumRows} />
      <Label x={537} y={788} spacing={1.5}>type of spectrum</Label>
      <Label x={815} y={785}>HII</Label>
      <Label x={815} y={807}>int</Label>
      <Label x={815} y={828}>AGN</Label>
      <circle cx={878.7} cy={778.5} r={2.95} fill="#0000ff" />
      <circle cx={878.7} cy={800} r={2.95} fill="#ff0000" />
      <circle cx={878.7} cy={821.5} r={2.95} fill="#000" />
      <Label x={538} y={1123} size={21}>e)</Label>
      <PixelLabel x={656} y={1178} letter="X" />
      <PixelLabel x={488} y={1005} letter="Y" rotate />

      <PanelF />
    </svg>
  );
}
